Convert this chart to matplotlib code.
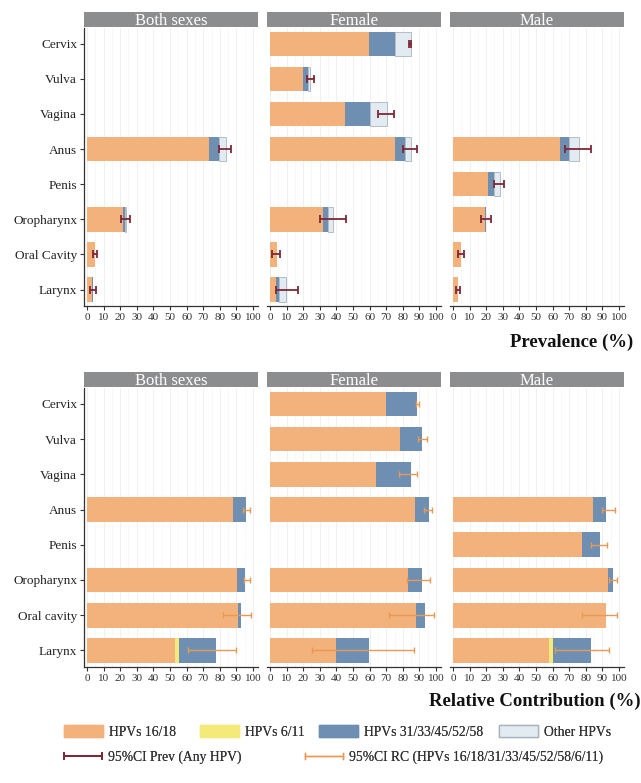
import numpy as np
import matplotlib
matplotlib.use("Agg")
import matplotlib.pyplot as plt
from matplotlib.patches import Patch
from matplotlib.lines import Line2D
from matplotlib.legend_handler import HandlerBase

plt.rcParams['font.family'] = ['Liberation Serif', 'DejaVu Serif']

nan = np.nan
sexes = ["Both sexes", "Female", "Male"]
sites_prev = ["Cervix", "Vulva", "Vagina", "Anus", "Penis", "Oropharynx", "Oral Cavity", "Larynx"]
sites_rc = ["Cervix", "Vulva", "Vagina", "Anus", "Penis", "Oropharynx", "Oral cavity", "Larynx"]

# ---- Prevalence (%) ----
prev_1618 = {
    "Both sexes": [nan, nan, nan, 73.3, nan, 21.8, 5.1, 3.2],
    "Female":     [59.6, 19.9, 45.4, 75.3, nan, 31.7, 4.0, 3.4],
    "Male":       [nan, nan, nan, 64.7, 21.1, 19.3, 5.0, 2.8],
}
prev_611 = {
    "Both sexes": [nan, nan, nan, 0, nan, 0, 0, 0],
    "Female":     [0, 0, 0, 0, nan, 0, 0, 0],
    "Male":       [nan, nan, nan, 0, 0, 0, 0, 0],
}
prev_31 = {
    "Both sexes": [nan, nan, nan, 6.5, nan, 0.8, 0, 0.6],
    "Female":     [15.5, 2.8, 14.8, 6.0, nan, 3.0, 0, 2.2],
    "Male":       [nan, nan, nan, 5.2, 3.6, 0.8, 0, 0],
}
prev_other = {
    "Both sexes": [nan, nan, nan, 4.0, nan, 0.8, 0, 0],
    "Female":     [9.6, 1.6, 10.5, 3.8, nan, 3.1, 0, 4.0],
    "Male":       [nan, nan, nan, 6.0, 3.4, 0, 0, 0],
}
prev_ci_lo = {
    "Both sexes": [nan, nan, nan, 79.8, nan, 20.2, 3.6, 2.0],
    "Female":     [83.6, 22.3, 65.1, 79.9, nan, 30.3, 1.4, 3.4],
    "Male":       [nan, nan, nan, 67.5, 24.7, 17.1, 3.0, 1.8],
}
prev_ci_hi = {
    "Both sexes": [nan, nan, nan, 86.9, nan, 25.9, 6.1, 5.3],
    "Female":     [85.0, 26.7, 74.7, 88.4, nan, 45.8, 6.0, 16.7],
    "Male":       [nan, nan, nan, 83.3, 30.7, 23.1, 6.6, 4.4],
}

# ---- Relative contribution (%) ----
rc_1618 = {
    "Both sexes": [nan, nan, nan, 87.9, nan, 90.5, 90.9, 53.0],
    "Female":     [70.1, 78.3, 64.0, 87.5, nan, 83.0, 87.8, 40.0],
    "Male":       [nan, nan, nan, 84.3, 77.5, 93.2, 92.4, 57.6],
}
rc_611 = {
    "Both sexes": [nan, nan, nan, 0, nan, 0, 0, 2.5],
    "Female":     [0, 0, 0, 0, nan, 0, 0, 0],
    "Male":       [nan, nan, nan, 0, 0, 0, 0, 2.4],
}
rc_31 = {
    "Both sexes": [nan, nan, nan, 7.9, nan, 4.7, 2.0, 22.2],
    "Female":     [18.3, 13.5, 20.7, 8.3, nan, 8.8, 5.6, 19.5],
    "Male":       [nan, nan, nan, 8.1, 10.9, 3.2, 0, 23.0],
}
rc_ci_lo = {
    "Both sexes": [nan, nan, nan, 94.0, nan, 94.5, 82.0, 61.0],
    "Female":     [88.0, 89.0, 78.0, 93.0, nan, 82.5, 71.7, 25.5],
    "Male":       [nan, nan, nan, 90.0, 83.3, 94.0, 77.9, 61.3],
}
rc_ci_hi = {
    "Both sexes": [nan, nan, nan, 98.0, nan, 98.2, 98.6, 90.0],
    "Female":     [89.5, 94.6, 88.6, 97.4, nan, 96.6, 99.0, 86.9],
    "Male":       [nan, nan, nan, 97.4, 92.6, 99.0, 99.0, 94.0],
}

legend_labels = ["HPVs 16/18", "HPVs 6/11", "HPVs 31/33/45/52/58", "Other HPVs"]
ci_labels = ["95%CI Prev (Any HPV)", "95%CI RC (HPVs 16/18/31/33/45/52/58/6/11)"]

C_1618 = "#F3B27B"
C_611 = "#F4EA7A"
C_31 = "#6E8FB2"
C_OTH = "#E2EBF1"
C_OTH_EDGE = "#A9B4BC"
C_PREV = "#7E2836"
C_RC = "#E89A55"
STRIP = "#8C8D8F"

W, H = 641, 783
fig = plt.figure(figsize=(W / 100, H / 100), dpi=100)
fig.patch.set_facecolor("white")

lefts_px = [84, 267, 450]
width_px = 174

def fx(px):
    return px / W

def fy(py):
    return 1 - py / H

def make_row(top_px, bot_px, strip_top, sites, stacks, ci_lo, ci_hi, ci_color, ci_lw, capsize):
    axes = []
    for i, sex in enumerate(sexes):
        ax = fig.add_axes([fx(lefts_px[i]), fy(bot_px), width_px / W, (bot_px - top_px) / H])
        sax = fig.add_axes([fx(lefts_px[i]), fy(top_px - 1), width_px / W, (top_px - 1 - strip_top) / H])
        sax.set_facecolor(STRIP)
        sax.set_xticks([]); sax.set_yticks([])
        for s in sax.spines.values():
            s.set_visible(False)
        sax.text(0.5, 0.42, sex, color="white", ha="center", va="center", fontsize=12,
                 transform=sax.transAxes)

        y = np.arange(len(sites))
        left = np.zeros(len(sites))
        for vals, col, ec in stacks:
            v = np.array(vals[sex], dtype=float)
            ok = ~np.isnan(v) & (v > 0)
            ax.barh(y[ok], v[ok], left=left[ok], height=0.7, color=col,
                    edgecolor=ec if ec else col, linewidth=0.6 if ec else 0, zorder=2)
            left = left + np.nan_to_num(v)
        lo = np.array(ci_lo[sex], dtype=float)
        hi = np.array(ci_hi[sex], dtype=float)
        ok = ~np.isnan(lo)
        mid = (lo + hi) / 2
        ax.errorbar(mid[ok], y[ok], xerr=[(mid - lo)[ok], (hi - mid)[ok]], fmt="none",
                    ecolor=ci_color, elinewidth=ci_lw, capsize=capsize, capthick=ci_lw, zorder=4)

        ax.set_xlim(-1.8, 103)
        ax.set_ylim(7.47, -0.45)
        ax.set_xticks(np.arange(0, 101, 10))
        ax.set_xticks(np.arange(5, 100, 10), minor=True)
        ax.grid(axis="x", which="major", color="#ECEEF2", linewidth=0.6, zorder=0)
        ax.grid(axis="x", which="minor", color="#F4F5F8", linewidth=0.5, zorder=0)
        ax.tick_params(axis="x", which="major", labelsize=8, length=3, width=0.8, pad=2,
                       color="#333333", labelcolor="#333333")
        ax.tick_params(axis="x", which="minor", length=0)
        ax.spines["top"].set_visible(False)
        ax.spines["right"].set_visible(False)
        ax.spines["bottom"].set_color("#333333")
        ax.spines["bottom"].set_linewidth(0.9)
        if i == 0:
            ax.set_yticks(y)
            ax.set_yticklabels(sites, fontsize=9.5, color="#222222")
            ax.tick_params(axis="y", length=3, width=0.8, pad=2, color="#333333")
            ax.spines["left"].set_color("#333333")
            ax.spines["left"].set_linewidth(0.9)
        else:
            ax.set_yticks([])
            ax.spines["left"].set_visible(False)
        ax.set_facecolor("white")
        axes.append(ax)
    return axes

make_row(28, 306, 12, sites_prev,
         [(prev_1618, C_1618, None), (prev_611, C_611, None), (prev_31, C_31, None),
          (prev_other, C_OTH, C_OTH_EDGE)],
         prev_ci_lo, prev_ci_hi, C_PREV, 1.3, 3)

make_row(388, 667, 372, sites_rc,
         [(rc_1618, C_1618, None), (rc_611, C_611, None), (rc_31, C_31, None)],
         rc_ci_lo, rc_ci_hi, C_RC, 1.0, 2.5)

fig.text(fx(633), fy(342), "Prevalence (%)", ha="right", va="center", fontsize=13.5,
         fontweight="bold", color="#111111")
fig.text(fx(641), fy(701), "Relative Contribution (%)", ha="right", va="center", fontsize=13.5,
         fontweight="bold", color="#111111")


class CapLine:
    def __init__(self, color, lw):
        self.color = color
        self.lw = lw


class CapLineHandler(HandlerBase):
    def create_artists(self, legend, orig, xd, yd, width, height, fontsize, trans):
        yc = height / 2 - yd
        x0, x1 = -xd, -xd + width
        h = height * 0.55
        arts = [
            Line2D([x0, x1], [yc, yc], color=orig.color, lw=orig.lw),
            Line2D([x0, x0], [yc - h / 2, yc + h / 2], color=orig.color, lw=orig.lw),
            Line2D([x1, x1], [yc - h / 2, yc + h / 2], color=orig.color, lw=orig.lw),
        ]
        for a in arts:
            a.set_transform(trans)
        return arts


fs_leg = 9.8
# Row 1: fill legend entries
patch_handles = [Patch(facecolor=C_1618, edgecolor=C_1618),
                 Patch(facecolor=C_611, edgecolor=C_611),
                 Patch(facecolor=C_31, edgecolor=C_31),
                 Patch(facecolor=C_OTH, edgecolor=C_OTH_EDGE)]
row1_x = [64, 200, 319, 499]
for hdl, lab, xp in zip(patch_handles, legend_labels, row1_x):
    lg = fig.legend([hdl], [lab], loc="center left", bbox_to_anchor=(fx(xp), fy(732)),
                    frameon=False, fontsize=fs_leg, handlelength=2.9, handleheight=0.9,
                    handletextpad=0.4, borderpad=0, borderaxespad=0, labelcolor="#333333")
    fig.add_artist(lg)

ci_handles = [CapLine(C_PREV, 1.3), CapLine(C_RC, 1.0)]
row2_x = [64, 305]
for hdl, lab, xp in zip(ci_handles, ci_labels, row2_x):
    lg = fig.legend([hdl], [lab], loc="center left", bbox_to_anchor=(fx(xp), fy(757)),
                    frameon=False, fontsize=fs_leg, handlelength=2.8, handleheight=0.9,
                    handletextpad=0.45, borderpad=0, borderaxespad=0, labelcolor="#333333",
                    handler_map={CapLine: CapLineHandler()})
    fig.add_artist(lg)

fig.savefig("out.png", dpi=100, facecolor="white")
